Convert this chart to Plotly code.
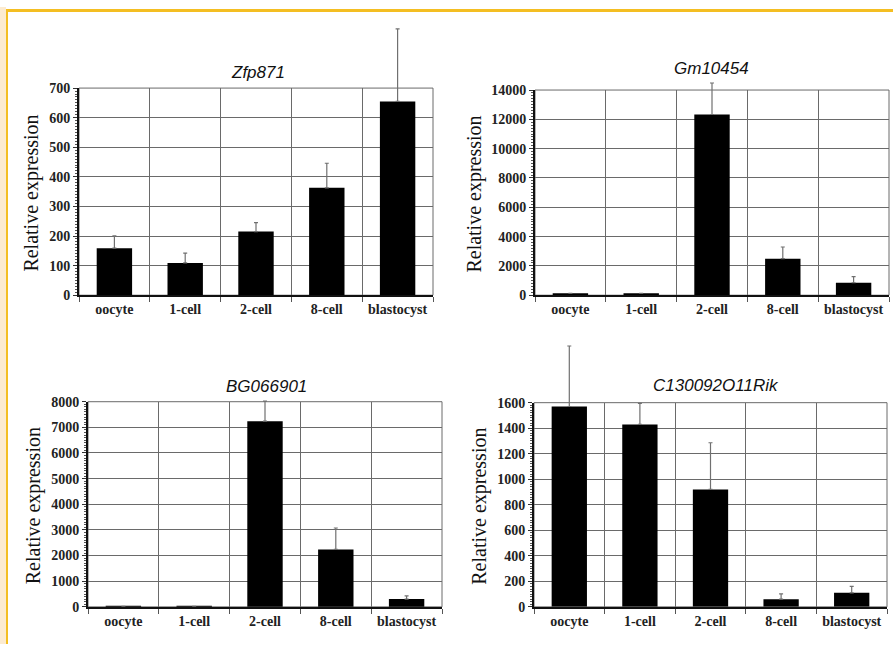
import plotly.graph_objects as go

categories = ["oocyte", "1-cell", "2-cell", "8-cell", "blastocyst"]

titles = ["Zfp871", "Gm10454", "BG066901", "C130092O11Rik"]

zfp871_vals = [159, 109, 215, 363, 655]
zfp871_err = [42, 33, 30, 83, 245]

gm10454_vals = [130, 130, 12330, 2490, 850]
gm10454_err = [0, 0, 2150, 800, 420]

bg066901_vals = [20, 20, 7240, 2240, 305]
bg066901_err = [0, 0, 780, 835, 125]

c130092o11rik_vals = [1570, 1430, 920, 60, 110]
c130092o11rik_err = [474, 165, 366, 42, 51]

y_ranges = [700, 14000, 8000, 1600]
y_dticks = [100, 2000, 1000, 200]

series = [
    (zfp871_vals, zfp871_err),
    (gm10454_vals, gm10454_err),
    (bg066901_vals, bg066901_err),
    (c130092o11rik_vals, c130092o11rik_err),
]

W, H = 893, 652
# plot area boxes in pixels: (x0, x1, y_top, y_bottom)
boxes = [(79, 433, 83, 295), (535, 889, 85, 295), (88, 442, 404, 614), (534, 887, 405, 614)]
# top of the (invisible) area in which error bars may be drawn
err_tops = [10, 10, 330, 330]
title_pos = [(258, 67), (711, 63), (266, 388), (716, 387)]
ylabel_x = [32, 475, 33, 480]

fig = go.Figure()
layout = dict(
    width=W, height=H, margin=dict(l=0, r=0, t=0, b=0),
    paper_bgcolor="white", plot_bgcolor="rgba(0,0,0,0)", showlegend=False,
)
annotations = []
shapes = []

tickfont = dict(family="Liberation Serif", size=14, color="#222", weight="bold")

for i, ((vals, err), (x0, x1, yt, yb)) in enumerate(zip(series, boxes)):
    n = "" if i == 0 else str(i + 1)
    xa, ya = "x" + n, "y" + n
    m = str(i + 5)
    xe, ye = "x" + m, "y" + m
    fig.add_trace(go.Bar(
        x=categories, y=vals, xaxis=xa, yaxis=ya,
        marker=dict(color="black", line=dict(width=0)),
        width=0.5,
    ))
    # error bars on an invisible, taller overlay subplot with the same scale
    fig.add_trace(go.Scatter(
        x=categories, y=vals, xaxis=xe, yaxis=ye, mode="markers",
        marker=dict(size=1, color="rgba(0,0,0,0)"), cliponaxis=False,
        error_y=dict(type="data", symmetric=False, array=err,
                     arrayminus=[0] * len(err), color="#707070",
                     thickness=1.2, width=2),
    ))
    layout["xaxis" + n] = dict(
        domain=[x0 / W, x1 / W], anchor=ya, type="category",
        tickson="boundaries", showgrid=True, gridcolor="#6a6a6a", gridwidth=1,
        showline=True, linecolor="#111", linewidth=2,
        ticks="outside", ticklen=5, tickcolor="#555",
        tickfont=tickfont, range=[-0.5, 4.5], fixedrange=True,
    )
    layout["yaxis" + n] = dict(
        domain=[1 - yb / H, 1 - yt / H], anchor=xa,
        range=[0, y_ranges[i]], dtick=y_dticks[i], tick0=0, tickformat="d",
        showgrid=True, gridcolor="#6a6a6a", gridwidth=1,
        showline=True, linecolor="#111", linewidth=2,
        ticks="outside", ticklen=4, tickcolor="#333",
        minor=dict(dtick=y_dticks[i] / 10, ticks="outside", ticklen=2,
                   tickcolor="#555", showgrid=False),
        tickfont=tickfont, zeroline=False, fixedrange=True,
    )
    et = err_tops[i]
    layout["xaxis" + m] = dict(
        domain=[x0 / W, x1 / W], anchor=ye, type="category",
        range=[-0.5, 4.5], visible=False, fixedrange=True,
    )
    layout["yaxis" + m] = dict(
        domain=[1 - yb / H, 1 - et / H], anchor=xe,
        range=[0, y_ranges[i] * (yb - et) / (yb - yt)],
        visible=False, fixedrange=True,
    )
    shapes.append(dict(type="rect", xref=xa + " domain", yref=ya + " domain",
                       x0=0, x1=1, y0=0, y1=1, line=dict(color="#6a6a6a", width=1),
                       layer="below"))
    tx, ty = title_pos[i]
    annotations.append(dict(
        text=titles[i], x=tx / W, y=1 - ty / H, xref="paper", yref="paper",
        showarrow=False, xanchor="center", yanchor="middle",
        font=dict(family="Liberation Sans", size=17, color="#111", style="italic"),
    ))
    annotations.append(dict(
        text="Relative expression", x=ylabel_x[i] / W, y=1 - ((yt + yb) / 2 + 2) / H,
        xref="paper", yref="paper", showarrow=False, textangle=-90,
        xanchor="center", yanchor="middle",
        font=dict(family="Liberation Serif", size=20, color="#111"),
    ))

# page border (cream strip + orange frame)
shapes.append(dict(type="rect", xref="paper", yref="paper", x0=0, x1=6 / W, y0=0, y1=1,
                   fillcolor="#FCEBD0", line=dict(width=0), layer="above"))
shapes.append(dict(type="rect", xref="paper", yref="paper", x0=6 / W, x1=8 / W, y0=0, y1=1 - 2 / H,
                   fillcolor="#F4BE22", line=dict(width=0), layer="above"))
shapes.append(dict(type="rect", xref="paper", yref="paper", x0=6 / W, x1=1, y0=1 - 5 / H, y1=1 - 2 / H,
                   fillcolor="#F4BE22", line=dict(width=0), layer="above"))

layout["annotations"] = annotations
layout["shapes"] = shapes
fig.update_layout(**layout)

post = (
    "var gd=document.getElementById('{plot_id}');"
    "gd.style.position='fixed';gd.style.top='0px';gd.style.left='0px';"
    "document.documentElement.style.margin='0';document.documentElement.style.padding='0';"
    "document.body.style.margin='0';document.body.style.padding='0';"
    "document.body.style.overflow='hidden';"
)
fig.write_html("out.html", config={"displayModeBar": False}, post_script=post)
